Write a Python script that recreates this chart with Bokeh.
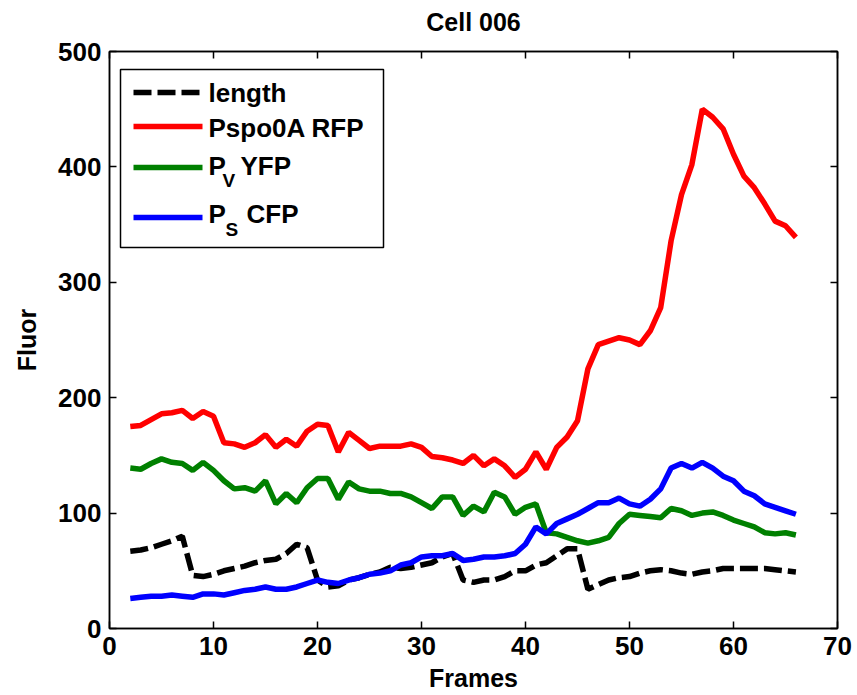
from bokeh.plotting import figure
from bokeh.models import Range1d, LinearAxis, FixedTicker, BoxAnnotation
from bokeh.embed import file_html
from bokeh.resources import INLINE
from bokeh.core.properties import value

# ---- data ----
frames = list(range(2, 67))

length = [67, 68, 70, 73, 76, 80, 46, 45, 47, 50, 52, 54, 57, 59, 60, 65, 73, 70, 42, 36,
          37, 42, 44, 47, 49, 53, 52, 53, 55, 57, 62, 65, 42, 40, 42, 42, 45, 50, 50, 55,
          57, 63, 69, 69, 34, 38, 42, 44, 45, 48, 50, 51, 50, 48, 47, 49, 50, 52, 52, 52,
          52, 52, 51, 50, 49]

rfp = [175, 176, 181, 186, 187, 189, 182, 188, 184, 161, 160, 157, 161, 168, 157, 164, 158, 171, 177, 176,
       153, 170, 163, 156, 158, 158, 158, 160, 157, 149, 148, 146, 143, 150, 141, 147, 141, 131, 138, 153,
       138, 157, 166, 180, 225, 246, 249, 252, 250, 246, 258, 278, 336, 376, 402, 450, 443, 433, 411, 392,
       382, 368, 353, 349, 339]

yfp = [139, 138, 143, 147, 144, 143, 137, 144, 137, 128, 121, 122, 119, 128, 108, 117, 109, 122, 130, 130,
       112, 127, 121, 119, 119, 117, 117, 114, 109, 104, 114, 114, 98, 106, 101, 118, 114, 99, 105, 108,
       83, 82, 79, 76, 74, 76, 79, 91, 99, 98, 97, 96, 104, 102, 98, 100, 101, 98, 94, 91,
       88, 83, 82, 83, 81]

cfp = [26, 27, 28, 28, 29, 28, 27, 30, 30, 29, 31, 33, 34, 36, 34, 34, 36, 39, 42, 40,
       39, 42, 44, 47, 48, 50, 55, 57, 62, 63, 63, 65, 59, 60, 62, 62, 63, 65, 73, 88,
       82, 91, 95, 99, 104, 109, 109, 113, 108, 106, 112, 121, 139, 143, 139, 144, 139, 132, 128, 119,
       115, 108, 105, 102, 99]

x_ticks = [0, 10, 20, 30, 40, 50, 60, 70]
y_ticks = [0, 100, 200, 300, 400, 500]

title_text = "Cell 006"
x_label = "Frames"
y_label = "Fluor"

# ---- layout constants ----
FONT = "Liberation Sans"
FX0, FX1, FY0, FY1 = 109, 837, 51, 628
XMIN, XMAX, YMIN, YMAX = 0, 70, 0, 500


def dx(px):
    return XMIN + (px - FX0) / (FX1 - FX0) * (XMAX - XMIN)


def dy(py):
    return YMIN + (FY1 - py) / (FY1 - FY0) * (YMAX - YMIN)


p = figure(frame_width=FX1 - FX0, frame_height=FY1 - FY0,
           x_range=Range1d(XMIN, XMAX), y_range=Range1d(YMIN, YMAX),
           output_backend="svg", toolbar_location=None, title=None,
           min_border_left=FX0, min_border_right=857 - FX1,
           min_border_top=FY0, min_border_bottom=695 - FY1,
           background_fill_color="white", border_fill_color="white")

p.grid.visible = False
p.outline_line_color = "black"
p.outline_line_width = 1.5

for ax, ticks in ((p.xaxis[0], x_ticks), (p.yaxis[0], y_ticks)):
    ax.ticker = FixedTicker(ticks=ticks)
    ax.major_label_text_font = FONT
    ax.major_label_text_font_size = "26px"
    ax.major_label_text_font_style = "bold"
    ax.major_label_text_color = "black"
    ax.axis_label_text_font = FONT
    ax.axis_label_text_font_size = "25px"
    ax.axis_label_text_font_style = "bold"
    ax.axis_label_text_color = "black"
    ax.major_tick_in = 7
    ax.major_tick_out = 0
    ax.minor_tick_line_color = None
    ax.axis_line_width = 1.5
    ax.major_tick_line_width = 1.5

p.xaxis[0].axis_label = x_label
p.yaxis[0].axis_label = y_label
p.xaxis[0].major_label_standoff = 8
p.xaxis[0].axis_label_standoff = 6
p.yaxis[0].major_label_standoff = 8
p.yaxis[0].axis_label_standoff = 14

axes_extra = {}
for loc, ticks in (("above", x_ticks), ("right", y_ticks)):
    ax = LinearAxis(ticker=FixedTicker(ticks=ticks),
                    major_label_overrides={t: "" for t in ticks},
                    major_label_text_font_size="0px", major_label_standoff=0,
                    major_tick_in=7, major_tick_out=0, minor_tick_line_color=None,
                    axis_line_width=1.5, major_tick_line_width=1.5)
    p.add_layout(ax, loc)
    axes_extra[loc] = ax

# chart title carried by the top axis
top = axes_extra["above"]
top.axis_label = title_text
top.axis_label_text_font = FONT
top.axis_label_text_font_size = "25px"
top.axis_label_text_font_style = "bold"
top.axis_label_text_color = "black"
top.axis_label_standoff = 16

# ---- series ----
p.line(frames, length, line_color="black", line_width=5.5, line_dash="18 6")
p.line(frames, rfp, line_color="#ff0000", line_width=5.5)
p.line(frames, yfp, line_color="#008000", line_width=5.5)
p.line(frames, cfp, line_color="#0000ff", line_width=5.5)

# ---- legend (drawn by hand so that subscripts are possible) ----
p.add_layout(BoxAnnotation(left=dx(120), right=dx(383), top=dy(69), bottom=dy(247),
                           fill_color="white", fill_alpha=1.0,
                           line_color="black", line_alpha=1.0, line_width=1.5))

sw_x0, sw_x1 = dx(133), dx(202)
rows_y = [dy(92), dy(126), dy(167), dy(217)]
sw_colors = ["black", "#ff0000", "#008000", "#0000ff"]
sw_dash = ["18 6", "solid", "solid", "solid"]
for yy, c, d in zip(rows_y, sw_colors, sw_dash):
    p.segment(x0=[sw_x0], y0=[yy], x1=[sw_x1], y1=[yy], line_color=c,
              line_width=5.5, line_dash=d, level="overlay")

main_txt = ["length", "Pspo0A RFP", "P", "YFP", "P", "CFP"]
main_x = [dx(208), dx(208), dx(208), dx(240), dx(208), dx(246)]
main_y = [dy(92), dy(127), dy(165), dy(165), dy(213), dy(213)]
p.text(x=main_x, y=main_y, text=main_txt, text_font=value(FONT),
       text_font_size=value("26px"), text_font_style="bold", text_color="black",
       text_baseline="middle", text_align="left", level="overlay")

sub_txt = ["V", "S"]
sub_x = [dx(222), dx(225)]
sub_y = [dy(180), dy(229)]
p.text(x=sub_x, y=sub_y, text=sub_txt, text_font=value(FONT),
       text_font_size=value("19px"), text_font_style="bold", text_color="black",
       text_baseline="middle", text_align="left", level="overlay")

open("out.html", "w").write(file_html(p, INLINE))
